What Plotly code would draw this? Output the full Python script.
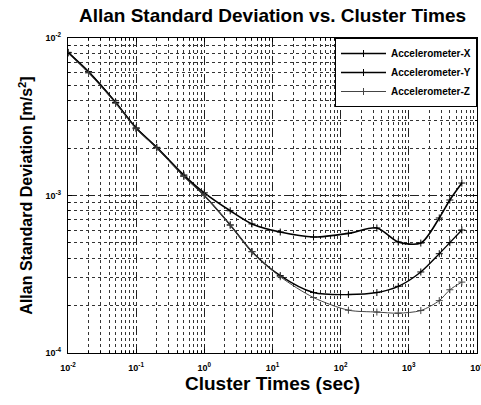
import plotly.graph_objects as go

# Cluster times (sec)
cluster_times = [0.01, 0.02, 0.05, 0.1, 0.2, 0.5, 1, 2.4, 5, 13, 40, 130, 340, 700, 1500, 2800, 4000, 6000]

# Allan standard deviation [m/s^2]
acc_x = [8.1e-3, 6.1e-3, 3.9e-3, 2.68e-3, 2.02e-3, 1.35e-3, 1.04e-3, 8.0e-4, 6.6e-4, 5.86e-4,
         5.45e-4, 5.75e-4, 6.22e-4, 5.07e-4, 4.99e-4, 7.2e-4, 9.36e-4, 1.2e-3]
acc_y = [8.1e-3, 6.1e-3, 3.9e-3, 2.68e-3, 2.02e-3, 1.33e-3, 1.0e-3, 6.5e-4, 4.4e-4, 3.1e-4,
         2.42e-4, 2.35e-4, 2.42e-4, 2.65e-4, 3.27e-4, 4.27e-4, 5.02e-4, 6.04e-4]
acc_z = [8.0e-3, 6.0e-3, 3.85e-3, 2.65e-3, 2.0e-3, 1.32e-3, 1.0e-3, 6.5e-4, 4.4e-4, 3.05e-4,
         2.25e-4, 1.87e-4, 1.82e-4, 1.79e-4, 1.86e-4, 2.15e-4, 2.52e-4, 2.82e-4]

# Tick values and labels
x_tick_vals = [1e-2, 1e-1, 1e0, 1e1, 1e2, 1e3, 1e4]
x_tick_text = ["10<sup>-2</sup>", "10<sup>-1</sup>", "10<sup>0</sup>", "10<sup>1</sup>",
               "10<sup>2</sup>", "10<sup>3</sup>", "10<sup>4</sup>"]
y_tick_vals = [1e-4, 1e-3, 1e-2]
y_tick_text = ["10<sup>-4</sup>", "10<sup>-3</sup>", "10<sup>-2</sup>"]

series = [
    ("Accelerometer-X", acc_x, "black", 1.6),
    ("Accelerometer-Y", acc_y, "black", 1.4),
    ("Accelerometer-Z", acc_z, "#444444", 1.0),
]

fig = go.Figure()
for name, vals, col, w in series:
    fig.add_trace(go.Scatter(
        x=cluster_times, y=vals, name=name, mode="lines+markers",
        line=dict(color=col, width=w, shape="spline", smoothing=0.8),
        marker=dict(symbol="cross-thin", size=5, line=dict(color=col, width=1)),
    ))

tickfont = dict(family="Liberation Sans, Arial", size=9, color="black", weight="bold")
grid_major = dict(showgrid=True, gridcolor="#222222", gridwidth=1, griddash="dash")

fig.update_xaxes(
    type="log", range=[-2, 4.0005], tickmode="array", tickvals=x_tick_vals, ticktext=x_tick_text,
    showline=True, linecolor="black", linewidth=1.2, mirror="ticks",
    ticks="inside", ticklen=4, tickcolor="black", tickfont=tickfont,
    ticklabelstandoff=6, ticklabeloverflow="allow", automargin=False,
    minor=dict(dtick="D1", showgrid=True, gridcolor="#333333", griddash="dot",
               ticks="inside", ticklen=2, tickcolor="black"),
    title=dict(text="Cluster Times (sec)", standoff=2,
               font=dict(family="Liberation Sans, Arial", size=19, color="black", weight="bold")),
    **grid_major,
)
fig.update_yaxes(
    type="log", range=[-4, -2], tickmode="array", tickvals=y_tick_vals, ticktext=y_tick_text,
    showline=True, linecolor="black", linewidth=1.2, mirror="ticks",
    ticks="inside", ticklen=4, tickcolor="black", tickfont=tickfont,
    ticklabelstandoff=4, ticklabeloverflow="allow", automargin=False,
    minor=dict(dtick="D1", showgrid=True, gridcolor="#333333", griddash="dot",
               ticks="inside", ticklen=2, tickcolor="black"),
    title=dict(text="Allan Standard Deviation [m/s<sup>2</sup>]", standoff=8,
               font=dict(family="Liberation Sans, Arial", size=16, color="black", weight="bold")),
    **grid_major,
)

fig.update_layout(
    width=481, height=405,
    margin=dict(l=68, r=4, t=38, b=52),
    plot_bgcolor="white", paper_bgcolor="white",
    font=dict(family="Liberation Sans, Arial", color="black"),
    title=dict(text="Allan Standard Deviation vs. Cluster Times", x=0.5, xref="paper",
               xanchor="center", y=1 - 15 / 405, yanchor="middle",
               font=dict(family="Liberation Sans, Arial", size=19, color="black", weight="bold")),
    legend=dict(x=1, xanchor="right", y=1, yanchor="top", bgcolor="white",
                bordercolor="black", borderwidth=1,
                font=dict(family="Liberation Sans, Arial", size=10, color="black", weight="bold"),
                itemwidth=45),
    showlegend=True,
)

fig.write_html("out.html")
